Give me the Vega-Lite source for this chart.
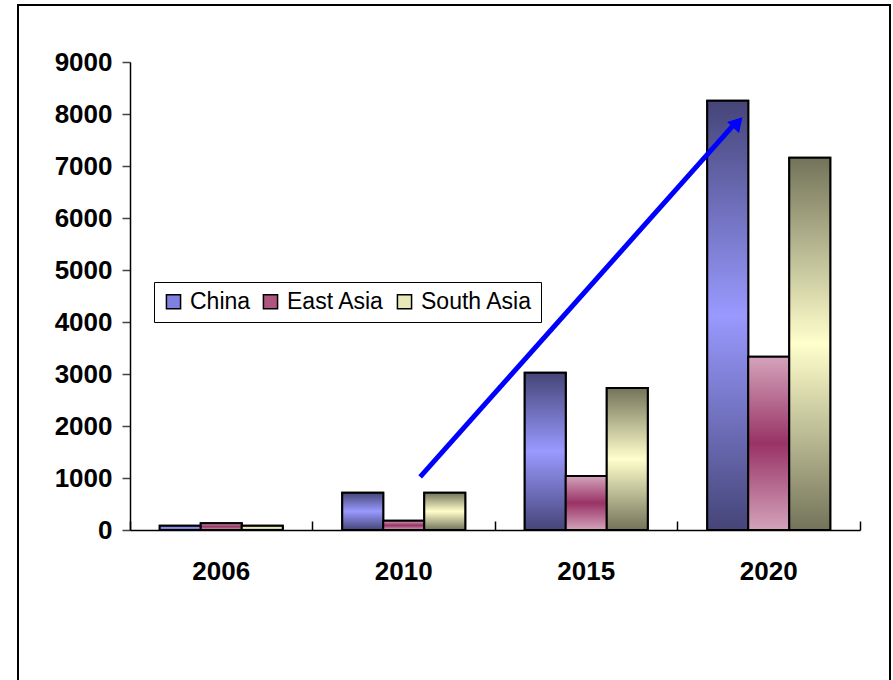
{
  "$schema": "https://vega.github.io/schema/vega-lite/v6.json",
  "autosize": "none",
  "padding": {"left": 18, "top": 5, "right": 3, "bottom": 0},
  "width": 872,
  "height": 700,
  "background": "white",
  "config": {
    "view": {"stroke": "black", "strokeWidth": 2},
    "font": "Liberation Sans Narrow, Arial Narrow, Liberation Sans"
  },
  "datasets": {
    "bars": [
      {"year": "2006", "region": "China", "value": 83},
      {"year": "2006", "region": "East Asia", "value": 130},
      {"year": "2006", "region": "South Asia", "value": 83},
      {"year": "2010", "region": "China", "value": 717},
      {"year": "2010", "region": "East Asia", "value": 180},
      {"year": "2010", "region": "South Asia", "value": 717},
      {"year": "2015", "region": "China", "value": 3025},
      {"year": "2015", "region": "East Asia", "value": 1038},
      {"year": "2015", "region": "South Asia", "value": 2730},
      {"year": "2020", "region": "China", "value": 8256},
      {"year": "2020", "region": "East Asia", "value": 3333},
      {"year": "2020", "region": "South Asia", "value": 7160}
    ],
    "arrow": [
      {"year": "2010", "year2": "2020", "value": 1020, "value2": 7800}
    ],
    "head": [
      {"year": "2020", "value": 7840}
    ]
  },
  "encoding": {
    "x": {
      "field": "year", "type": "nominal", "sort": ["2006", "2010", "2015", "2020"],
      "scale": {"domain": ["2006", "2010", "2015", "2020"], "range": [112, 842], "paddingInner": 0, "paddingOuter": 0}
    },
    "y": {
      "field": "value", "type": "quantitative",
      "scale": {"domain": [0, 9000], "range": [525, 57], "nice": false}
    }
  },
  "layer": [
    {
      "data": {"name": "bars"},
      "mark": {"type": "bar", "stroke": "black", "strokeWidth": 2},
      "encoding": {
        "x": {
          "field": "year", "type": "nominal",
          "axis": {
            "title": null, "labelAngle": 0, "offset": -175,
            "bandPosition": 1, "tickExtra": true, "ticks": true, "tickSize": -9,
            "tickColor": "black", "tickWidth": 1.5,
            "domainColor": "black", "domainWidth": 1.5,
            "labelFontSize": 26, "labelFontWeight": "bold", "labelColor": "black", "labelPadding": 37
          }
        },
        "xOffset": {
          "field": "region", "type": "nominal",
          "scale": {"domain": ["China", "East Asia", "South Asia"], "paddingInner": 0, "paddingOuter": 0.725}
        },
        "y": {
          "field": "value", "type": "quantitative",
          "axis": {
            "title": null, "grid": false, "values": [0,1000,2000,3000,4000,5000,6000,7000,8000,9000],
            "format": "d",
            "offset": -112, "domainColor": "black", "domainWidth": 1.5,
            "tickColor": "#444", "tickSize": 8, "tickWidth": 1.5,
            "labelFontSize": 26, "labelFontWeight": "bold", "labelColor": "black", "labelPadding": 10
          }
        },
        "color": {
          "field": "region", "type": "nominal",
          "scale": {
            "domain": ["China", "East Asia", "South Asia"],
            "range": ["#8080e0", "#b0557f", "#e8e8b8"]
          },
          "legend": {
            "title": null, "orient": "none", "direction": "horizontal",
            "legendX": 136, "legendY": 277,
            "fillColor": "white", "strokeColor": "black",
            "padding": 8, "symbolType": "square", "symbolSize": 200,
            "symbolStrokeColor": "black", "symbolStrokeWidth": 1.5, "symbolOpacity": 1,
            "labelFontSize": 23, "labelColor": "black", "labelOffset": 5, "columnPadding": 8
          }
        }
      }
    },
    {
      "data": {"name": "bars"},
      "transform": [{"filter": "datum.region === 'China'"}],
      "mark": {"type": "bar", "stroke": "black", "strokeWidth": 2,
        "fill": {"gradient": "linear", "x1": 0, "y1": 0, "x2": 0, "y2": 1, "stops": [
          {"offset": 0, "color": "#454578"}, {"offset": 0.5, "color": "#9999ff"}, {"offset": 1, "color": "#454578"}]}},
      "encoding": {
        "xOffset": {"field": "region", "type": "nominal"}
      }
    },
    {
      "data": {"name": "bars"},
      "transform": [{"filter": "datum.region === 'East Asia'"}],
      "mark": {"type": "bar", "stroke": "black", "strokeWidth": 2,
        "fill": {"gradient": "linear", "x1": 0, "y1": 0, "x2": 0, "y2": 1, "stops": [
          {"offset": 0, "color": "#d4a3bb"}, {"offset": 0.5, "color": "#993366"}, {"offset": 1, "color": "#d4a3bb"}]}},
      "encoding": {
        "xOffset": {"field": "region", "type": "nominal"}
      }
    },
    {
      "data": {"name": "bars"},
      "transform": [{"filter": "datum.region === 'South Asia'"}],
      "mark": {"type": "bar", "stroke": "black", "strokeWidth": 2,
        "fill": {"gradient": "linear", "x1": 0, "y1": 0, "x2": 0, "y2": 1, "stops": [
          {"offset": 0, "color": "#73735a"}, {"offset": 0.5, "color": "#ffffcc"}, {"offset": 1, "color": "#73735a"}]}},
      "encoding": {
        "xOffset": {"field": "region", "type": "nominal"}
      }
    },
    {
      "data": {"name": "arrow"},
      "mark": {"type": "rule", "color": "#0000ff", "strokeWidth": 5},
      "encoding": {
        "x": {"field": "year", "type": "nominal", "bandPosition": 0.59},
        "x2": {"field": "year2", "bandPosition": 0.31},
        "y2": {"field": "value2"}
      }
    },
    {
      "data": {"name": "head"},
      "mark": {"type": "point", "shape": "triangle-up", "filled": true, "color": "#0000ff", "opacity": 1, "size": 260, "angle": 42},
      "encoding": {
        "x": {"field": "year", "type": "nominal", "bandPosition": 0.33}
      }
    }
  ]
}
